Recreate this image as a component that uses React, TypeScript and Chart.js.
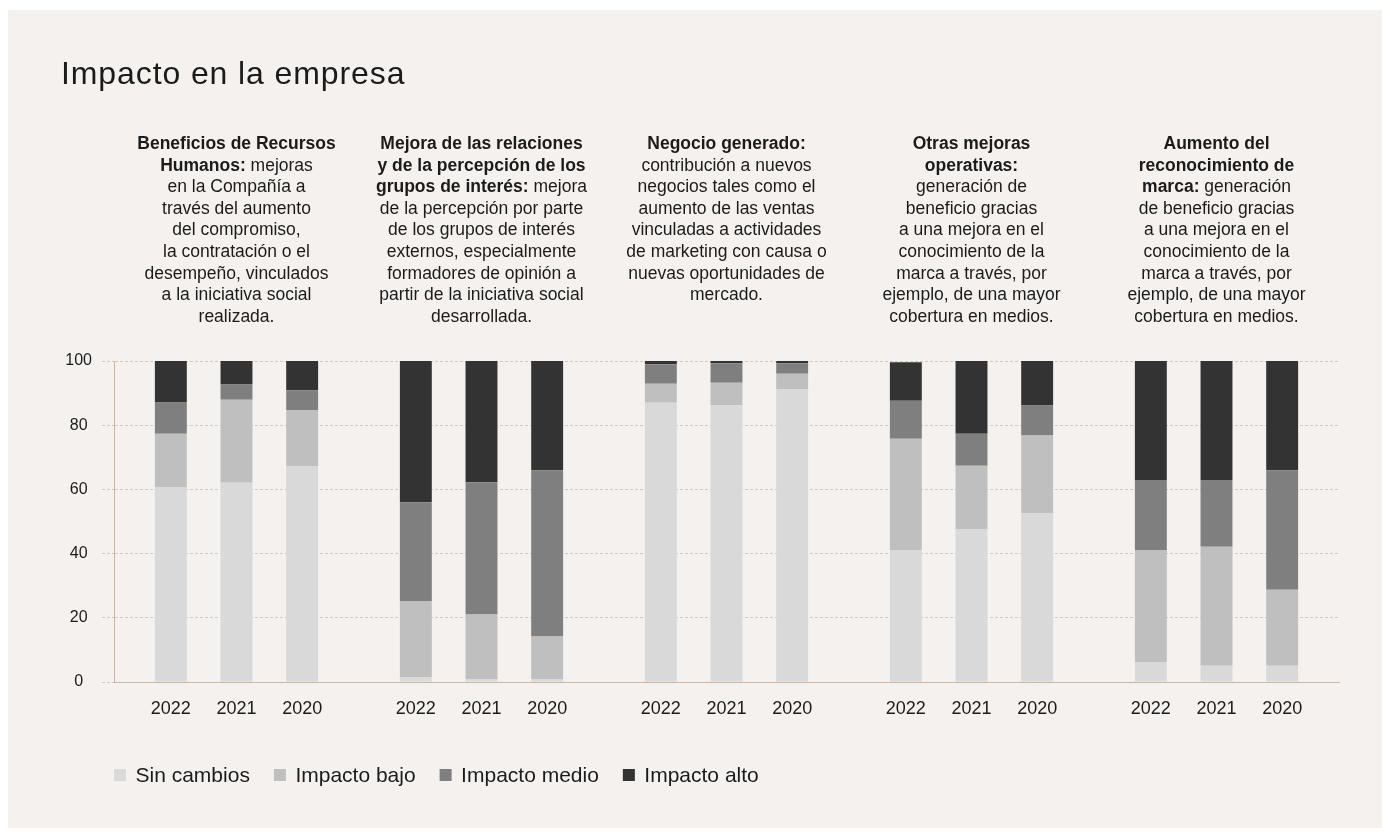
import { useEffect, useRef } from 'react';
import { Chart, registerables } from 'chart.js';

Chart.register(...registerables);

const FONT = '"Liberation Sans", Arial, sans-serif';
const TEXT = '#1b1b1b';
const GRID = 'rgba(0,0,0,0.16)';
const AXIS = '#c9b7a4';
const BG = '#f4f1ee';

const title = 'Impacto en la empresa';
const years = ['2022', '2021', '2020'];
const groups = ['Recursos Humanos', 'Grupos de interés', 'Negocio generado', 'Otras mejoras operativas', 'Reconocimiento de marca'];
const levelLabels = ['Sin cambios', 'Impacto bajo', 'Impacto medio', 'Impacto alto'];
const levelColors = ['#d9d9d9', '#bfbfbf', '#7f7f7f', '#333333'];

// values per group, in year order [2022, 2021, 2020]
const sinCambios = [[60.6, 62.1, 67.1], [1.5, 0.9, 0.9], [87.0, 86.2, 91.2], [41.1, 47.7, 52.5], [6.2, 5.1, 5.1]];
const impactoBajo = [[16.7, 25.8, 17.6], [23.7, 20.1, 13.3], [5.9, 7.0, 4.8], [34.7, 19.7, 24.3], [34.9, 37.0, 23.6]];
const impactoMedio = [[9.8, 4.8, 6.2], [30.8, 41.2, 51.8], [6.1, 6.1, 3.3], [11.8, 9.9, 9.3], [21.8, 20.8, 37.3]];
const impactoAlto = [[12.9, 7.3, 9.1], [44.0, 37.8, 34.0], [1.0, 0.7, 0.7], [12.0, 22.7, 13.9], [37.1, 37.1, 34.0]];

// header lines: [bold part, regular part]
const headers: [string, string][][] = [
  [
    ['Beneficios de Recursos', ''],
    ['Humanos:', ' mejoras'],
    ['', 'en la Compañía a'],
    ['', 'través del aumento'],
    ['', 'del compromiso,'],
    ['', 'la contratación o el'],
    ['', 'desempeño, vinculados'],
    ['', 'a la iniciativa social'],
    ['', 'realizada.'],
  ],
  [
    ['Mejora de las relaciones', ''],
    ['y de la percepción de los', ''],
    ['grupos de interés:', ' mejora'],
    ['', 'de la percepción por parte'],
    ['', 'de los grupos de interés'],
    ['', 'externos, especialmente'],
    ['', 'formadores de opinión a'],
    ['', 'partir de la iniciativa social'],
    ['', 'desarrollada.'],
  ],
  [
    ['Negocio generado:', ''],
    ['', 'contribución a nuevos'],
    ['', 'negocios tales como el'],
    ['', 'aumento de las ventas'],
    ['', 'vinculadas a actividades'],
    ['', 'de marketing con causa o'],
    ['', 'nuevas oportunidades de'],
    ['', 'mercado.'],
  ],
  [
    ['Otras mejoras', ''],
    ['operativas:', ''],
    ['', 'generación de'],
    ['', 'beneficio gracias'],
    ['', 'a una mejora en el'],
    ['', 'conocimiento de la'],
    ['', 'marca a través, por'],
    ['', 'ejemplo, de una mayor'],
    ['', 'cobertura en medios.'],
  ],
  [
    ['Aumento del', ''],
    ['reconocimiento de', ''],
    ['marca:', ' generación'],
    ['', 'de beneficio gracias'],
    ['', 'a una mejora en el'],
    ['', 'conocimiento de la'],
    ['', 'marca a través, por'],
    ['', 'ejemplo, de una mayor'],
    ['', 'cobertura en medios.'],
  ],
];

const levelData = [sinCambios, impactoBajo, impactoMedio, impactoAlto];

const overlayPlugin = {
  id: 'overlay',
  afterDraw(chart: any) {
    const ctx: CanvasRenderingContext2D = chart.ctx;
    const xs = chart.scales.x;
    const area = chart.chartArea;
    ctx.save();
    ctx.fillStyle = TEXT;

    // title
    ctx.font = `32px ${FONT}`;
    (ctx as any).letterSpacing = '0.9px';
    ctx.textAlign = 'left';
    ctx.textBaseline = 'alphabetic';
    ctx.fillText(title, 53, 74);
    (ctx as any).letterSpacing = '0px';

    // headers
    const boldFont = `bold 17.5px ${FONT}`;
    const regFont = `17.5px ${FONT}`;
    headers.forEach((lines, g) => {
      const cx = xs.getPixelForValue(g);
      lines.forEach(([b, r], li) => {
        ctx.font = boldFont;
        const wb = b ? ctx.measureText(b).width : 0;
        ctx.font = regFont;
        const wr = r ? ctx.measureText(r).width : 0;
        let sx = cx - (wb + wr) / 2;
        const y = 139 + li * 21.6;
        if (b) {
          ctx.font = boldFont;
          ctx.fillText(b, sx, y);
          sx += wb;
        }
        if (r) {
          ctx.font = regFont;
          ctx.fillText(r, sx, y);
        }
      });
    });

    // year labels under each bar
    ctx.font = `18px ${FONT}`;
    ctx.textAlign = 'center';
    ctx.textBaseline = 'middle';
    years.forEach((yr, yi) => {
      const meta = chart.getDatasetMeta(yi * levelLabels.length);
      meta.data.forEach((bar: any) => {
        ctx.fillText(yr, bar.x, area.bottom + 27);
      });
    });

    // legend
    ctx.font = `21px ${FONT}`;
    ctx.textAlign = 'left';
    let lx = area.left;
    const ly = 765;
    levelLabels.forEach((lab, i) => {
      ctx.fillStyle = levelColors[i];
      ctx.fillRect(lx, ly - 6, 12, 12);
      ctx.fillStyle = TEXT;
      ctx.fillText(lab, lx + 21.5, ly + 1);
      lx += 21.5 + ctx.measureText(lab).width + 24;
    });

    ctx.restore();
  },
};

export default function App() {
  const ref = useRef<HTMLCanvasElement | null>(null);

  useEffect(() => {
    if (!ref.current) return;
    const datasets: any[] = [];
    years.forEach((yr, yi) => {
      levelLabels.forEach((lab, li) => {
        datasets.push({
          label: lab,
          stack: yr,
          data: levelData[li].map((g) => g[yi]),
          backgroundColor: levelColors[li],
          borderWidth: 0,
          categoryPercentage: 0.804,
          barPercentage: 0.486,
        });
      });
    });

    const chart = new Chart(ref.current, {
      type: 'bar',
      data: { labels: groups, datasets },
      options: {
        responsive: false,
        animation: false,
        layout: { padding: { top: 351, left: 46, right: 45, bottom: 0 } },
        plugins: {
          legend: { display: false },
          tooltip: { enabled: false },
          title: { display: false },
        },
        scales: {
          x: {
            stacked: true,
            ticks: { display: false },
            grid: { display: false },
            border: { display: true, color: AXIS, width: 1 },
            afterFit: (s: any) => {
              s.height = 148;
            },
          },
          y: {
            stacked: true,
            min: 0,
            max: 100,
            ticks: {
              stepSize: 20,
              color: TEXT,
              font: { family: FONT, size: 16 },
              padding: 10,
              crossAlign: 'center',
            },
            grid: {
              color: GRID,
              tickLength: 12,
              tickColor: GRID,
              tickBorderDash: [3, 2],
              drawTicks: true,
            },
            border: { display: true, color: AXIS, width: 1, dash: [3, 2] },
            afterFit: (s: any) => {
              s.width = 60;
            },
          },
        },
      } as any,
      plugins: [overlayPlugin],
    });
    return () => chart.destroy();
  }, []);

  return (
    <div style={{ position: 'relative', top: 2, width: 1376, height: 820, background: BG }}>
      <canvas ref={ref} width={1376} height={820} style={{ display: 'block' }} />
    </div>
  );
}
